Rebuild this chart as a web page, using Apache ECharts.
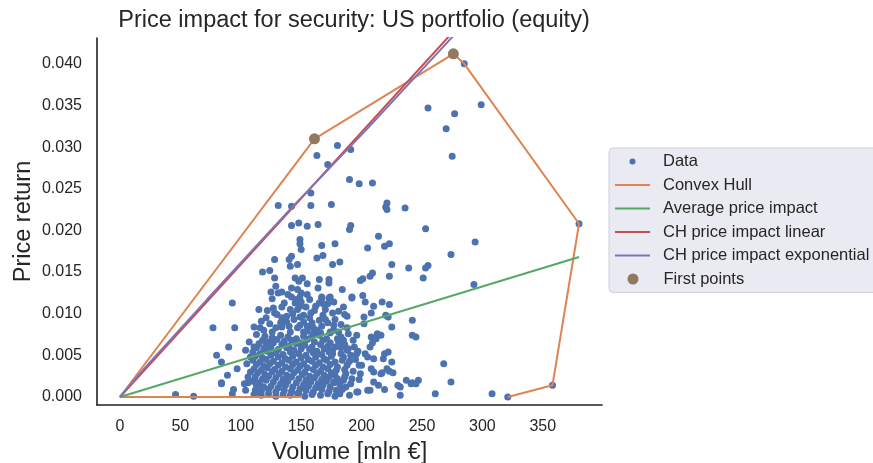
<!DOCTYPE html>
<html>
<head>
<meta charset="utf-8">
<title>Price impact for security</title>
<script src="https://cdn.jsdelivr.net/npm/echarts@6/dist/echarts.min.js"></script>
<style>
html, body { margin: 0; padding: 0; background: #fff; }
#chart { width: 873px; height: 463px; }
</style>
</head>
<body>
<div id="chart"></div>
<script>
// volume [mln EUR], price return
var dataPoints = [
	[161,0.0310],[276,0.0412],[285,0.0400],[255,0.0347],[277,0.0340],[299,0.0351],[270,0.0322],[275,0.0289],
	[131,0.0230],[142,0.0229],[158,0.0230],[175,0.0231],[158,0.0245],[163,0.0290],[180,0.0302],[172,0.0279],
	[190,0.0261],[191,0.0297],[198,0.0256],[209,0.0257],[221,0.0233],[221,0.0225],[220,0.0228],[236,0.0227],
	[142,0.0206],[148,0.0209],[155,0.0205],[164,0.0207],[190,0.0201],[191,0.0206],[214,0.0193],[149,0.0189],
	[149,0.0184],[150,0.0177],[167,0.0182],[178,0.0184],[205,0.0179],[219,0.0181],[223,0.0184],
	[128,0.0165],[140,0.0165],[142,0.0169],[141,0.0157],[147,0.0159],[163,0.0167],[168,0.0170],[176,0.0159],
	[182,0.0162],[225,0.0159],[118,0.0150],[124,0.0152],[128,0.0143],[145,0.0143],[151,0.0143],[148,0.0139],
	[155,0.0136],[165,0.0141],[173,0.0141],[173,0.0137],[199,0.0140],[201,0.0142],[209,0.0149],[207,0.0145],
	[223,0.0145],[129,0.0133],[125,0.0126],[131,0.0125],[134,0.0126],[142,0.0131],[147,0.0129],[150,0.0125],
	[139,0.0123],[164,0.0131],[184,0.0129],[192,0.0120],[201,0.0122],[174,0.0120],[167,0.0120],[142,0.0120],
	[149,0.0120],[155,0.0123],[146,0.0117],
	[253,0.0202],[294,0.0186],[274,0.0171],[239,0.0155],[253,0.0155],[255,0.0158],[251,0.0143],[293,0.0135],
	[380,0.0208],
	[203,0.0114],[210,0.0109],[217,0.0114],[223,0.0111],[188,0.0097],[202,0.0096],[202,0.0088],[208,0.0101],
	[220,0.0098],[222,0.0096],[225,0.0084],[242,0.0092],[242,0.0074],[245,0.0072],
	[174,0.0078],[183,0.0072],[189,0.0076],[196,0.0074],[193,0.0068],[208,0.0072],[213,0.0076],[212,0.0070],
	[181,0.0066],[178,0.0060],[183,0.0052],[176,0.0052],[185,0.0048],[188,0.0056],[194,0.0060],[196,0.0052],
	[207,0.0060],[209,0.0065],[203,0.0052],[205,0.0048],[219,0.0052],[225,0.0042],[268,0.0040],
	[180,0.0036],[188,0.0038],[198,0.0038],[208,0.0034],[210,0.0030],[216,0.0028],[221,0.0034],[178,0.0026],
	[187,0.0028],[192,0.0022],[199,0.0028],[198,0.0021],[185,0.0020],[177,0.0018],[210,0.0018],[219,0.0009],
	[230,0.0014],[232,0.0002],[237,0.0020],[241,0.0016],[247,0.0020],[245,0.0016],[274,0.0018],[261,0.0004],
	[308,0.0004],[182,0.0004],[197,0.0006],[205,0.0008],[358,0.0014],[321,0.0000],
	[46,0.0003],[61,0.0001],[84,0.0016],[94,0.0009],[93,0.0004],[104,0.0008],[103,0.0016],[232,0.0012],[242,0.0017],
	[93,0.0113],[115,0.0105],[127,0.0107],[134,0.0108],[145,0.0113],[149,0.0109],[147,0.0105],[154,0.0108],
	[158,0.0101],[152,0.0098],[165,0.0113],[172,0.0112],[134,0.0095],[138,0.0097],[138,0.0090],[129,0.0083],
	[126,0.0078],[134,0.0084],[144,0.0093],[149,0.0096],[152,0.0090],[155,0.0085],[149,0.0086],[147,0.0083],
	[141,0.0078],[152,0.0078],[159,0.0089],[165,0.0092],[172,0.0089],[163,0.0080],[177,0.0080],[174,0.0077],
	[181,0.0078],
	[77,0.0083],[95,0.0083],[111,0.0084],[116,0.0083],[119,0.0080],[90,0.0060],[111,0.0060],[80,0.0050],
	[84,0.0042],[97,0.0034],[89,0.0026],[84,0.0017],[108,0.0048],[105,0.0040],[108,0.0030],[106,0.0017],
	[116,0.0014],[113,0.0006],
	[126,0.0118],[141,0.0105],[167,0.0118],[173,0.0119],[192,0.0119],
	[183,0.0059],[189,0.0058],[197,0.0055],[200,0.0038],[210,0.0046],[218,0.0046],[217,0.0029],[223,0.0031],
	[226,0.0029],[222,0.0054],[216,0.0074],[214,0.0014],[196,0.0006],[207,0.0008],
	// dense block around 110-180
	[120,0.0073],[126,0.0071],[133,0.0074],[139,0.0072],[146,0.0070],[152,0.0073],[158,0.0071],[165,0.0074],[171,0.0070],
	[118,0.0068],[123,0.0066],[130,0.0069],[136,0.0067],[142,0.0068],[149,0.0065],[155,0.0069],[161,0.0066],[168,0.0068],[174,0.0065],
	[115,0.0064],[121,0.0062],[127,0.0065],[134,0.0063],[140,0.0061],[146,0.0064],[153,0.0062],[159,0.0060],[166,0.0063],[172,0.0061],
	[113,0.0059],[119,0.0058],[125,0.0060],[131,0.0057],[138,0.0059],[144,0.0056],[150,0.0058],[157,0.0057],[163,0.0055],[169,0.0058],[176,0.0056],
	[110,0.0054],[116,0.0052],[122,0.0055],[129,0.0053],[135,0.0051],[141,0.0054],[148,0.0052],[154,0.0050],[160,0.0053],[167,0.0051],[173,0.0054],
	[112,0.0049],[118,0.0047],[125,0.0050],[131,0.0048],[137,0.0046],[143,0.0049],[150,0.0047],[156,0.0045],[162,0.0048],[169,0.0046],[175,0.0049],
	[110,0.0044],[116,0.0042],[121,0.0045],[127,0.0043],[134,0.0041],[140,0.0044],[146,0.0042],[152,0.0040],[159,0.0043],[165,0.0041],[171,0.0044],[178,0.0042],
	[113,0.0039],[119,0.0037],[124,0.0040],[131,0.0038],[137,0.0036],[143,0.0039],[149,0.0037],[155,0.0035],[162,0.0038],[168,0.0036],[174,0.0039],
	[111,0.0034],[117,0.0032],[122,0.0035],[128,0.0033],[134,0.0031],[141,0.0034],[147,0.0032],[153,0.0030],[160,0.0033],[166,0.0031],[172,0.0034],[179,0.0032],
	[114,0.0029],[120,0.0027],[126,0.0030],[132,0.0028],[138,0.0026],[144,0.0029],[151,0.0027],[157,0.0025],[163,0.0028],[169,0.0026],[175,0.0029],
	[112,0.0024],[118,0.0022],[123,0.0025],[129,0.0023],[135,0.0021],[142,0.0024],[148,0.0022],[154,0.0020],[161,0.0023],[167,0.0021],[173,0.0024],[180,0.0022],
	[110,0.0019],[115,0.0017],[121,0.0020],[127,0.0018],[133,0.0016],[139,0.0019],[146,0.0017],[152,0.0015],[158,0.0018],[164,0.0016],[171,0.0019],[177,0.0017],
	[113,0.0014],[119,0.0012],[125,0.0013],[131,0.0011],[137,0.0014],[143,0.0012],[149,0.0010],[156,0.0013],[162,0.0011],[168,0.0014],[174,0.0012],
	[112,0.0008],[117,0.0007],[123,0.0009],[129,0.0006],[136,0.0008],[142,0.0007],[148,0.0005],[154,0.0008],[160,0.0006],[167,0.0009],[173,0.0007],
	[111,0.0003],[117,0.0002],[123,0.0004],[129,0.0001],[135,0.0003],[141,0.0002],[147,0.0004],[153,0.0001],[159,0.0003],[166,0.0002],[172,0.0004],
	// upper part of the cloud
	[121,0.0095],[128,0.0101],[133,0.0089],[140,0.0085],[157,0.0095],[161,0.0104],[168,0.0098],[178,0.0093],
	[124,0.0088],[143,0.0100],[160,0.0083],[170,0.0105],[185,0.0108],[136,0.0113],
	[150,0.0114],[157,0.0117],[162,0.0109],[169,0.0111],[177,0.0114],[181,0.0103],[186,0.0099],[176,0.0101],
	[170,0.0093],[183,0.0087],[188,0.0083],[177,0.0086],[167,0.0085],[160,0.0076],[155,0.0079],[166,0.0077],
	[185,0.0068],[180,0.0070],[186,0.0063],[184,0.0044],[190,0.0043],[186,0.0033],[182,0.0015],[187,0.0012],
	[191,0.0016],[184,0.0009],[190,0.0002],[179,0.0008],[178,0.0001],[186,0.0024],[193,0.0031],[195,0.0045],
	[191,0.0050],[130,0.0099],[122,0.0104],[117,0.0091],[113,0.0075],[107,0.0066],[104,0.0056],[106,0.0024]
];

// convex hull path (drawn open, as in the picture)
var hullPoints = [[150,0],[0,0],[161,0.0310],[276,0.0412],[285,0.0400],[380,0.0208],[358,0.0014],[321,0.0000]];
var avgImpact = [[0,0],[380,0.0168]];
var chLinear = [[0,0],[300,0.0477]];
var chExponential = [[0,0],[20,0.0034],[72,0.0117],[140,0.0224],[204,0.0321],[275,0.0432],[300,0.0470]];
var firstPoints = [[161,0.0310],[276,0.0412]];

var FONT = 'Liberation Sans, Arial, sans-serif';
var TXT = '#262626';
var LINE_ICON = 'path://M0,0L35,0L35,2L0,2Z';

var chart = echarts.init(document.getElementById('chart'), null, {renderer: 'canvas'});

function lineSeries(name, data, color){
	return {
		name: name,
		type: 'line',
		data: data,
		symbol: 'none',
		smooth: false,
		lineStyle: {color: color, width: 2},
		itemStyle: {color: color},
		clip: true,
		silent: true,
		animation: false
	};
}

var legendText = {fontFamily: FONT, fontSize: 16.5, color: TXT, lineHeight: 17, padding: [0, 0, 0, 8]};

var option = {
	animation: false,
	title: {
		text: 'Price impact for security: US portfolio (equity)',
		left: 349,
		textAlign: 'center',
		top: 4,
		textStyle: {fontFamily: FONT, fontSize: 23.5, fontWeight: 'normal', color: TXT}
	},
	grid: {left: 97, right: 271, top: 38, bottom: 58, outerBoundsMode: 'none', containLabel: false},
	legend: [{
		orient: 'vertical',
		align: 'left',
		left: 609,
		top: 148,
		padding: [5, 12, 28.5, 6],
		itemWidth: 35,
		itemHeight: 6,
		itemGap: 6.5,
		selectedMode: false,
		backgroundColor: '#eaeaf2',
		borderColor: '#cfcfd6',
		borderWidth: 1,
		borderRadius: 4,
		textStyle: legendText,
		data: [
			{name: 'Data', icon: 'circle'},
			{name: 'Convex Hull', icon: LINE_ICON},
			{name: 'Average price impact', icon: LINE_ICON},
			{name: 'CH price impact linear', icon: LINE_ICON},
			{name: 'CH price impact exponential', icon: LINE_ICON}
		]
	}, {
		// separate legend so the brown marker can be bigger
		orient: 'vertical',
		align: 'left',
		left: 621.5,
		top: 270.5,
		padding: [0, 12, 0, 6],
		itemWidth: 35,
		itemHeight: 11,
		selectedMode: false,
		textStyle: legendText,
		data: [{name: 'First points', icon: 'circle'}]
	}],
	xAxis: {
		type: 'value',
		min: -19,
		max: 399,
		splitNumber: 8,
		name: 'Volume [mln €]',
		nameLocation: 'middle',
		nameGap: 36,
		nameMoveOverlap: false,
		nameTextStyle: {fontFamily: FONT, fontSize: 23.5, color: TXT},
		axisLine: {show: true, onZero: false, lineStyle: {color: '#222', width: 1.6}},
		axisTick: {show: false},
		splitLine: {show: false},
		axisLabel: {
			margin: 14, fontFamily: FONT, fontSize: 16, color: TXT,
			showMinLabel: false, showMaxLabel: false
		}
	},
	yAxis: {
		type: 'value',
		min: -0.00096,
		max: 0.0431,
		splitNumber: 9,
		name: 'Price return',
		nameLocation: 'middle',
		nameGap: 61,
		nameMoveOverlap: false,
		nameTextStyle: {fontFamily: FONT, fontSize: 23.5, color: TXT},
		axisLine: {show: true, onZero: false, lineStyle: {color: '#222', width: 1.6}},
		axisTick: {show: false},
		splitLine: {show: false},
		axisLabel: {
			margin: 15, fontFamily: FONT, fontSize: 16, color: TXT,
			showMinLabel: false, showMaxLabel: false,
			formatter: function(v){ return v.toFixed(3); }
		}
	},
	series: [
		{
			name: 'Data',
			type: 'scatter',
			data: dataPoints,
			symbol: 'circle',
			symbolSize: 7,
			itemStyle: {color: '#4c72b0', opacity: 1},
			silent: true,
			animation: false
		},
		lineSeries('Convex Hull', hullPoints, '#dd8452'),
		lineSeries('Average price impact', avgImpact, '#55a868'),
		lineSeries('CH price impact linear', chLinear, '#c44e52'),
		lineSeries('CH price impact exponential', chExponential, '#8172b3'),
		{
			name: 'First points',
			type: 'scatter',
			data: firstPoints,
			symbol: 'circle',
			symbolSize: 11,
			itemStyle: {color: '#937860', opacity: 1},
			z: 5,
			silent: true,
			animation: false
		}
	]
};

chart.setOption(option);
</script>
</body>
</html>
